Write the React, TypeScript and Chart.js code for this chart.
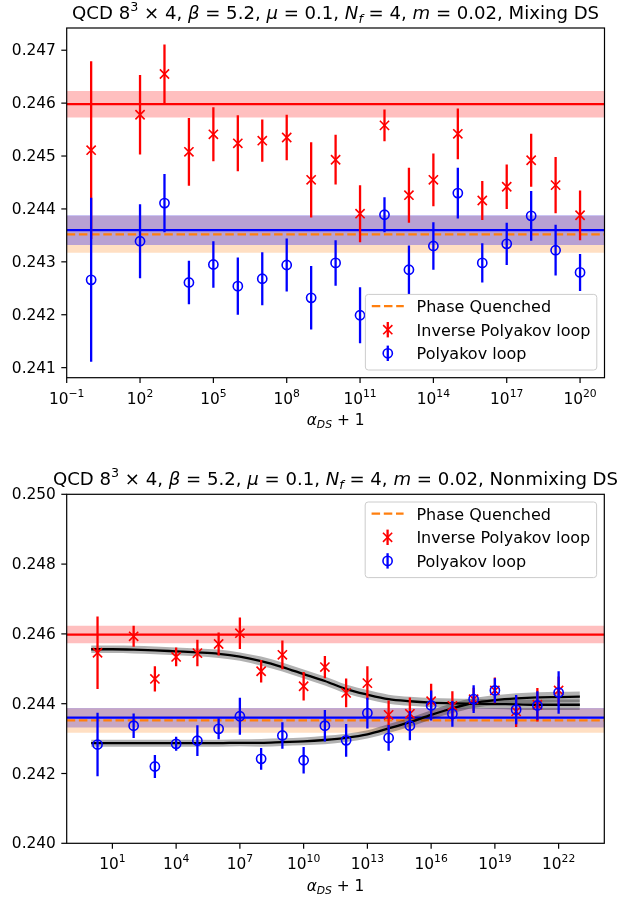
import React, { useEffect, useRef } from 'react';
import { Chart, registerables } from 'chart.js';

Chart.register(...registerables);

// ---------------- data ----------------
// Top panel: Mixing DS
const topAlphaPlus1 = [1, 1e2, 1e3, 1e4, 1e5, 1e6, 1e7, 1e8, 1e9, 1e10, 1e11, 1e12, 1e13, 1e14, 1e15, 1e16, 1e17, 1e18, 1e19, 1e20];
const topInverse = [0.24511, 0.24578, 0.24655, 0.24508, 0.24541, 0.24524, 0.24529, 0.24535, 0.24455, 0.24493, 0.24391, 0.24558, 0.24426, 0.24455, 0.24542, 0.24416, 0.24442, 0.24492, 0.24445, 0.24388];
const topInverseErr = [0.00168, 0.00075, 0.00056, 0.00064, 0.00051, 0.00053, 0.0004, 0.00043, 0.00071, 0.00047, 0.00054, 0.0003, 0.00052, 0.0005, 0.00048, 0.00037, 0.00042, 0.0005, 0.00053, 0.00047];
const topPolyakov = [0.24266, 0.24339, 0.24411, 0.24261, 0.24295, 0.24254, 0.24268, 0.24294, 0.24232, 0.24298, 0.24199, 0.24389, 0.24285, 0.2433, 0.2443, 0.24298, 0.24334, 0.24387, 0.24322, 0.2428];
const topPolyakovErr = [0.00155, 0.0007, 0.00055, 0.00041, 0.00044, 0.00054, 0.0005, 0.0005, 0.0006, 0.00043, 0.00053, 0.00033, 0.00046, 0.00045, 0.00048, 0.00037, 0.0004, 0.00047, 0.00048, 0.00035];

// Bottom panel: Nonmixing DS
const botAlphaPlus1 = [2, 1e2, 1e3, 1e4, 1e5, 1e6, 1e7, 1e8, 1e9, 1e10, 1e11, 1e12, 1e13, 1e14, 1e15, 1e16, 1e17, 1e18, 1e19, 1e20, 1e21, 1e22];
const botInverse = [0.24546, 0.24593, 0.24471, 0.24534, 0.24545, 0.24571, 0.24602, 0.24493, 0.2454, 0.2445, 0.24505, 0.24431, 0.24459, 0.24368, 0.24371, 0.24407, 0.24394, 0.24413, 0.24438, 0.24378, 0.24397, 0.24438];
const botInverseErr = [0.00104, 0.0003, 0.00036, 0.00027, 0.00038, 0.00033, 0.00045, 0.00032, 0.00041, 0.00041, 0.00032, 0.00041, 0.00048, 0.00041, 0.00047, 0.0005, 0.00042, 0.00033, 0.00037, 0.00045, 0.00048, 0.0004];
const botPolyakov = [0.24283, 0.24337, 0.2422, 0.24285, 0.24294, 0.24328, 0.24364, 0.24242, 0.24309, 0.24238, 0.24337, 0.24295, 0.24373, 0.24302, 0.24337, 0.24395, 0.24371, 0.24413, 0.24438, 0.24383, 0.24395, 0.24432];
const botPolyakovErr = [0.00091, 0.00035, 0.00033, 0.0002, 0.00044, 0.0003, 0.00053, 0.00031, 0.00038, 0.00038, 0.00045, 0.00047, 0.00044, 0.00037, 0.00042, 0.00043, 0.00037, 0.0004, 0.00035, 0.00042, 0.00041, 0.00061];

// Fit curves (bottom panel)
const fitAlphaPlus1 = [1, 1e1, 1e2, 1e3, 1e4, 1e5, 1e6, 1e7, 1e8, 1e9, 1e10, 1e11, 1e12, 1e13, 1e14, 1e15, 1e16, 1e17, 1e18, 1e19, 1e20, 1e21, 1e22, 1e23];
const fitInverse = [0.24556, 0.24556, 0.24555, 0.24553, 0.2455, 0.24547, 0.24543, 0.24535, 0.24522, 0.24505, 0.24485, 0.24465, 0.24442, 0.24426, 0.24413, 0.24407, 0.24403, 0.24401, 0.244, 0.24399, 0.24398, 0.24397, 0.24397, 0.24397];
const fitInverseErr = [0.00011, 0.00011, 0.00011, 0.00011, 0.00011, 0.00011, 0.00012, 0.00012, 0.00013, 0.00013, 0.00013, 0.00013, 0.00013, 0.00013, 0.00013, 0.00013, 0.00013, 0.00014, 0.00014, 0.00014, 0.00015, 0.00015, 0.00015, 0.00015];
const fitPolyakov = [0.24287, 0.24287, 0.24287, 0.24287, 0.24287, 0.24287, 0.24287, 0.24288, 0.24288, 0.2429, 0.24292, 0.24296, 0.24302, 0.24312, 0.24329, 0.24347, 0.24368, 0.24387, 0.24402, 0.2441, 0.24415, 0.24418, 0.24419, 0.2442];
const fitPolyakovErr = [0.0001, 0.0001, 0.0001, 0.0001, 0.0001, 0.0001, 0.0001, 0.0001, 0.00011, 0.00011, 0.00011, 0.00012, 0.00012, 0.00012, 0.00013, 0.00013, 0.00013, 0.00014, 0.00014, 0.00014, 0.00015, 0.00015, 0.00015, 0.00015];

// Reference lines (value, half-width of band)
const inverseRef = 0.24598;
const inverseRefErr = 0.00025;
const polyakovRef = 0.2436;
const polyakovRefErr = 0.00028;
const quenchedRef = 0.24352;
const quenchedRefErr = 0.00035;

// Axes
const topXRange = [0.1, 1e21];
const topYRange = [0.24081, 0.24742];
const topYTicks = [0.241, 0.242, 0.243, 0.244, 0.245, 0.246, 0.247];
const topXTicks = [1e-1, 1e2, 1e5, 1e8, 1e11, 1e14, 1e17, 1e20];
const topXTickExp = ['\u22121', '2', '5', '8', '11', '14', '17', '20'];

const botXRange = [0.0708, 1.41e24];
const botYRange = [0.24, 0.25];
const botYTicks = [0.24, 0.242, 0.244, 0.246, 0.248, 0.25];
const botXTicks = [1e1, 1e4, 1e7, 1e10, 1e13, 1e16, 1e19, 1e22];
const botXTickExp = ['1', '4', '7', '10', '13', '16', '19', '22'];

// Text
type Seg = [string, string];
const topTitle: Seg[] = [['QCD 8', 'n'], ['3', 'sup'], [' \u00d7 4, ', 'n'], ['\u03b2', 'i'], [' = 5.2, ', 'n'], ['\u03bc', 'i'], [' = 0.1, ', 'n'], ['N', 'i'], ['f', 'isub'], [' = 4, ', 'n'], ['m', 'i'], [' = 0.02, Mixing DS', 'n']];
const botTitle: Seg[] = [['QCD 8', 'n'], ['3', 'sup'], [' \u00d7 4, ', 'n'], ['\u03b2', 'i'], [' = 5.2, ', 'n'], ['\u03bc', 'i'], [' = 0.1, ', 'n'], ['N', 'i'], ['f', 'isub'], [' = 4, ', 'n'], ['m', 'i'], [' = 0.02, Nonmixing DS', 'n']];
const xAxisLabel: Seg[] = [['\u03b1', 'i'], ['DS', 'isub'], [' + 1', 'n']];
const legendLabels = ['Phase Quenched', 'Inverse Polyakov loop', 'Polyakov loop'];

// ---------------- styling ----------------
const FONT = '"DejaVu Sans", sans-serif';
const TICK_FS = 15.4;
const LEGEND_FS = 16;
const TITLE_FS = 18.1;
const TICK_LEN = 5.4;
const TICK_PAD = 5.4;
const RED = '#ff0000';
const BLUE = '#0000ff';
const ORANGE = '#ff7f0e';
const LW = 2.3;

function segFont(style: string, size: number) {
  const small = style === 'sup' || style === 'isub' || style === 'sub';
  const s = small ? size * 0.7 : size;
  const it = style === 'i' || style === 'isub';
  return `${it ? 'italic ' : ''}${s}px ${FONT}`;
}
function segDy(style: string, size: number) {
  if (style === 'sup') return -size * 0.45;
  if (style === 'isub' || style === 'sub') return size * 0.22;
  return 0;
}
function drawRich(ctx: CanvasRenderingContext2D, segs: Seg[], x: number, baseline: number, size: number, align: string) {
  let total = 0;
  const widths = segs.map(([t, s]) => {
    ctx.font = segFont(s, size);
    const w = ctx.measureText(t).width;
    total += w;
    return w;
  });
  let cx = align === 'center' ? x - total / 2 : align === 'right' ? x - total : x;
  ctx.textAlign = 'left';
  ctx.textBaseline = 'alphabetic';
  segs.forEach(([t, s], i) => {
    ctx.font = segFont(s, size);
    ctx.fillText(t, cx, baseline + segDy(s, size));
    cx += widths[i];
  });
}

function drawXMarker(ctx: CanvasRenderingContext2D, x: number, y: number, r: number) {
  ctx.beginPath();
  ctx.moveTo(x - r, y - r); ctx.lineTo(x + r, y + r);
  ctx.moveTo(x - r, y + r); ctx.lineTo(x + r, y - r);
  ctx.stroke();
}

function drawLegend(ctx: CanvasRenderingContext2D, a: any, loc: string) {
  const fs = LEGEND_FS;
  ctx.font = `${fs}px ${FONT}`;
  const tw = Math.max(...legendLabels.map((l) => ctx.measureText(l).width));
  const pad = 0.4 * fs, hl = 2 * fs, htp = 0.8 * fs, bap = 0.5 * TICK_FS;
  const w = pad + hl + htp + tw + pad;
  const rowGap = 23.6;
  const h = 11.7 + 2 * rowGap + 16.7;
  const right = a.right - bap;
  const left = right - w;
  const top = loc === 'lower right' ? a.bottom - bap - h : a.top + bap;
  ctx.save();
  ctx.beginPath();
  (ctx as any).roundRect(left, top, w, h, 3);
  ctx.fillStyle = 'rgba(255,255,255,0.8)';
  ctx.fill();
  ctx.strokeStyle = '#cccccc';
  ctx.lineWidth = 1;
  ctx.stroke();
  const hx0 = left + pad;
  const hxc = hx0 + hl / 2;
  legendLabels.forEach((lab, i) => {
    const cy = top + 11.7 + i * rowGap;
    if (i === 0) {
      ctx.strokeStyle = ORANGE; ctx.lineWidth = LW; ctx.setLineDash([8.5, 3.7]);
      ctx.beginPath(); ctx.moveTo(hx0, cy); ctx.lineTo(hx0 + hl, cy); ctx.stroke();
      ctx.setLineDash([]);
    } else {
      const col = i === 1 ? RED : BLUE;
      ctx.strokeStyle = col; ctx.lineWidth = LW;
      ctx.beginPath(); ctx.moveTo(hxc, cy - 7.7); ctx.lineTo(hxc, cy + 7.7); ctx.stroke();
      ctx.lineWidth = 1.6;
      if (i === 1) drawXMarker(ctx, hxc, cy, 4.6);
      else { ctx.beginPath(); ctx.arc(hxc, cy, 4.6, 0, Math.PI * 2); ctx.stroke(); }
    }
    ctx.fillStyle = '#000';
    ctx.font = `${fs}px ${FONT}`;
    ctx.textAlign = 'left'; ctx.textBaseline = 'alphabetic';
    ctx.fillText(lab, hx0 + hl + htp, cy + 6);
  });
  ctx.restore();
}

const errorBarPlugin = {
  id: 'errorBars',
  beforeDatasetDraw(chart: any, args: any) {
    const ds = chart.data.datasets[args.index];
    if (!ds.errorBars) return;
    const ctx = chart.ctx;
    const ys = chart.scales.y;
    const a = chart.chartArea;
    ctx.save();
    ctx.beginPath();
    ctx.rect(a.left, a.top, a.right - a.left, a.bottom - a.top);
    ctx.clip();
    ctx.strokeStyle = ds.borderColor;
    ctx.lineWidth = LW;
    args.meta.data.forEach((pt: any, i: number) => {
      const v = ds.data[i].y;
      const e = ds.errorBars[i];
      ctx.beginPath();
      ctx.moveTo(pt.x, ys.getPixelForValue(v + e));
      ctx.lineTo(pt.x, ys.getPixelForValue(v - e));
      ctx.stroke();
    });
    ctx.restore();
  },
};

function decoPlugin(panel: any) {
  return {
    id: 'deco',
    afterDatasetsDraw(chart: any) {
      const { ctx, chartArea: a, scales } = chart;
      const xs = scales.x, ys = scales.y;
      ctx.save();
      ctx.strokeStyle = '#000';
      ctx.fillStyle = '#000';
      ctx.lineWidth = 1.2;
      ctx.strokeRect(a.left, a.top, a.right - a.left, a.bottom - a.top);
      panel.yTicks.forEach((v: number) => {
        const py = ys.getPixelForValue(v);
        ctx.beginPath(); ctx.moveTo(a.left - TICK_LEN, py); ctx.lineTo(a.left, py); ctx.stroke();
        ctx.font = `${TICK_FS}px ${FONT}`;
        ctx.textAlign = 'right';
        ctx.textBaseline = 'middle';
        ctx.fillText(v.toFixed(3), a.left - TICK_LEN - TICK_PAD, py + 1);
      });
      panel.xTicks.forEach((v: number, i: number) => {
        const px = xs.getPixelForValue(v);
        ctx.beginPath(); ctx.moveTo(px, a.bottom); ctx.lineTo(px, a.bottom + TICK_LEN); ctx.stroke();
        drawRich(ctx, [['10', 'n'], [panel.xTickExp[i], 'sup']], px, a.bottom + 26, TICK_FS, 'center');
      });
      drawRich(ctx, xAxisLabel, (a.left + a.right) / 2, a.bottom + 47.4, TICK_FS, 'center');
      drawRich(ctx, panel.title, (a.left + a.right) / 2, a.top - 9.3, TITLE_FS, 'center');
      ctx.restore();
      drawLegend(ctx, a, panel.legendLoc);
    },
  };
}

function hline(xr: number[], v: number, color: string, dash: number[]) {
  return {
    type: 'line',
    data: [{ x: xr[0], y: v }, { x: xr[1], y: v }],
    borderColor: color, borderWidth: LW, borderDash: dash, pointRadius: 0, fill: false,
  };
}
function band(xr: number[], v: number, e: number, color: string) {
  return [
    { type: 'line', data: [{ x: xr[0], y: v + e }, { x: xr[1], y: v + e }], borderWidth: 0, pointRadius: 0, fill: '+1', backgroundColor: color },
    { type: 'line', data: [{ x: xr[0], y: v - e }, { x: xr[1], y: v - e }], borderWidth: 0, pointRadius: 0, fill: false },
  ];
}
function series(xv: number[], yv: number[], err: number[], color: string, style: string) {
  return {
    type: 'scatter',
    data: xv.map((x, i) => ({ x, y: yv[i] })),
    errorBars: err,
    borderColor: color,
    backgroundColor: 'rgba(0,0,0,0)',
    pointStyle: style,
    pointRadius: style === 'crossRot' ? 6.5 : 4.6,
    borderWidth: 1.6,
    showLine: false,
  };
}
function fitBand(yv: number[], err: number[]) {
  return [
    { type: 'line', data: fitAlphaPlus1.map((x, i) => ({ x, y: yv[i] + err[i] })), borderWidth: 0, pointRadius: 0, fill: '+1', backgroundColor: 'rgba(0,0,0,0.3)', cubicInterpolationMode: 'monotone' },
    { type: 'line', data: fitAlphaPlus1.map((x, i) => ({ x, y: yv[i] - err[i] })), borderWidth: 0, pointRadius: 0, fill: false, cubicInterpolationMode: 'monotone' },
  ];
}
function fitLine(yv: number[]) {
  return { type: 'line', data: fitAlphaPlus1.map((x, i) => ({ x, y: yv[i] })), borderColor: '#000', borderWidth: LW, pointRadius: 0, fill: false, cubicInterpolationMode: 'monotone' };
}

function makeConfig(panel: any, datasets: any[], padding: any) {
  datasets.forEach((d, i) => { d.order = datasets.length - i; });
  return {
    type: 'scatter',
    data: { datasets },
    options: {
      responsive: false,
      animation: false,
      events: [],
      layout: { padding },
      scales: {
        x: { type: 'logarithmic', display: false, min: panel.xRange[0], max: panel.xRange[1], bounds: 'data' },
        y: { type: 'linear', display: false, min: panel.yRange[0], max: panel.yRange[1], bounds: 'data' },
      },
      plugins: { legend: { display: false }, tooltip: { enabled: false }, title: { display: false } },
    },
    plugins: [errorBarPlugin, decoPlugin(panel)],
  } as any;
}

function topConfig() {
  const xr = topXRange;
  const panel = { xRange: xr, yRange: topYRange, yTicks: topYTicks, xTicks: topXTicks, xTickExp: topXTickExp, title: topTitle, legendLoc: 'lower right' };
  const ds = [
    ...band(xr, inverseRef, inverseRefErr, 'rgba(255,0,0,0.25)'),
    ...band(xr, quenchedRef, quenchedRefErr, 'rgba(255,127,14,0.25)'),
    ...band(xr, polyakovRef, polyakovRefErr, 'rgba(0,0,255,0.28)'),
    hline(xr, inverseRef, RED, []),
    hline(xr, polyakovRef, BLUE, []),
    hline(xr, quenchedRef, ORANGE, [8.5, 3.7]),
    series(topAlphaPlus1, topInverse, topInverseErr, RED, 'crossRot'),
    series(topAlphaPlus1, topPolyakov, topPolyakovErr, BLUE, 'circle'),
  ];
  return makeConfig(panel, ds, { left: 66.7, right: 12.5, top: 28, bottom: 72.3 });
}

function botConfig() {
  const xr = botXRange;
  const panel = { xRange: xr, yRange: botYRange, yTicks: botYTicks, xTicks: botXTicks, xTickExp: botXTickExp, title: botTitle, legendLoc: 'upper right' };
  const ds = [
    ...band(xr, inverseRef, inverseRefErr, 'rgba(255,0,0,0.25)'),
    ...band(xr, polyakovRef, polyakovRefErr, 'rgba(0,0,255,0.3)'),
    ...band(xr, quenchedRef, quenchedRefErr, 'rgba(255,127,14,0.25)'),
    hline(xr, inverseRef, RED, []),
    hline(xr, quenchedRef, ORANGE, [8.5, 3.7]),
    hline(xr, polyakovRef, BLUE, []),
    ...fitBand(fitInverse, fitInverseErr),
    ...fitBand(fitPolyakov, fitPolyakovErr),
    fitLine(fitInverse),
    fitLine(fitPolyakov),
    series(botAlphaPlus1, botInverse, botInverseErr, RED, 'crossRot'),
    series(botAlphaPlus1, botPolyakov, botPolyakovErr, BLUE, 'circle'),
  ];
  return makeConfig(panel, ds, { left: 66.7, right: 12.7, top: 44.3, bottom: 56.7 });
}

export default function App() {
  const topRef = useRef<HTMLCanvasElement | null>(null);
  const botRef = useRef<HTMLCanvasElement | null>(null);
  useEffect(() => {
    const c1 = new Chart(topRef.current as HTMLCanvasElement, topConfig());
    const c2 = new Chart(botRef.current as HTMLCanvasElement, botConfig());
    return () => { c1.destroy(); c2.destroy(); };
  }, []);
  return (
    <div style={{ position: 'absolute', left: 0, top: 0, width: 617, height: 900, background: '#fff' }}>
      <canvas ref={topRef} width={617} height={450} style={{ display: 'block', width: 617, height: 450 }} />
      <canvas ref={botRef} width={617} height={450} style={{ display: 'block', width: 617, height: 450 }} />
    </div>
  );
}
